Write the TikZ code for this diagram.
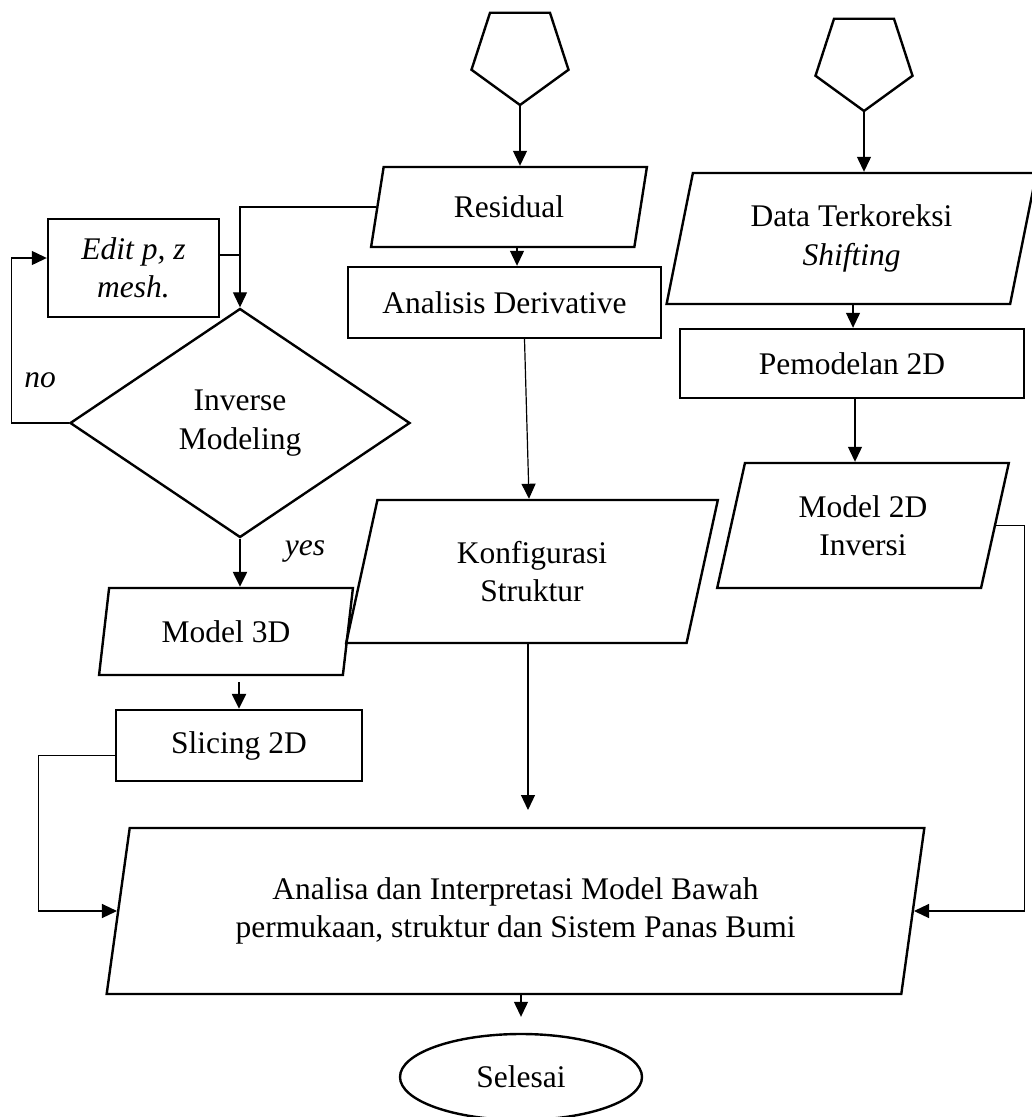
\documentclass[tikz,border=0pt]{standalone}
\usepackage{fontspec}
\setmainfont{Liberation Serif}
\usetikzlibrary{shapes.geometric,arrows.meta}
\begin{document}
\begin{tikzpicture}[x=1pt,y=-1pt,
  every node/.style={font=\fontsize{31.5}{38.5}\selectfont, align=center, inner sep=0pt},
  box/.style={draw, line width=2.4pt, rectangle},
  para/.style={draw, line width=2.4pt, trapezium, trapezium left angle=76, trapezium right angle=104, trapezium stretches=true},
  penta/.style={draw, line width=2.4pt, regular polygon, regular polygon sides=5, shape border rotate=180, minimum size=102pt},
  arr/.style={line width=1.2pt, -{Triangle[length=15pt,width=14pt]}},
  tarr/.style={line width=2.4pt, -{Triangle[length=15pt,width=14pt]}},
  conn/.style={line width=1.2pt},
  lbl/.style={font=\fontsize{31.5}{38.5}\selectfont\itshape}
]
\useasboundingbox (0,0) rectangle (1032,1117);

% nodes
\node[penta] (p1) at (520,54) {};
\node[penta] (p2) at (864,60) {};
\node[para, minimum width=276pt, minimum height=80pt] (res) at (509,207) {Residual};
\node[box, minimum width=313pt, minimum height=71pt] (ad) at (504.5,302.5) {Analisis Derivative};
\node[box, minimum width=171pt, minimum height=98pt] (edit) at (133.5,268) {\itshape Edit p, z\\\itshape mesh.};
\node[draw, line width=2.4pt, diamond, aspect=1.48, minimum width=340pt, minimum height=229pt] (dia) at (240,423) {Inverse\\Modeling};
\node[para, minimum width=254pt, minimum height=87pt] (m3d) at (226,631.5) {Model 3D};
\node[box, minimum width=246pt, minimum height=71pt] (sl) at (239,745.5) {Slicing 2D};
\node[para, minimum width=372pt, minimum height=143pt] (konf) at (532,571.5) {Konfigurasi\\Struktur};
\node[para, minimum width=371pt, minimum height=131pt] (dt) at (851.5,238.5) {Data Terkoreksi\\\itshape Shifting};
\node[box, minimum width=344pt, minimum height=69pt] (pm) at (852,363.5) {Pemodelan 2D};
\node[para, minimum width=292pt, minimum height=125pt] (m2d) at (863,525.5) {Model 2D\\Inversi};
\node[para, minimum width=821pt, minimum height=166pt] (main) at (515.5,911) {Analisa dan Interpretasi Model Bawah\\permukaan, struktur dan Sistem Panas Bumi};
\node[draw, line width=2.4pt, ellipse, minimum width=242pt, minimum height=86pt] (sel) at (521,1077) {Selesai};

\node[lbl] (no) at (40,380) {no};
\node[lbl] (yes) at (305,551) {yes};

\coordinate (kend) at (528,810);

% connectors
\draw[arr] (p1.corner 1) -- (p1.corner 1 |- res.north);
\draw[arr] ([xshift=8pt]res.south) -- ([xshift=8pt]res.south |- ad.north);
\draw[arr] (res.west) -| (dia.north);
\draw[conn] ([yshift=13pt]edit.east) -- ([yshift=13pt]edit.east -| dia.north);
\draw[arr] (dia.west) -- ++(-57,0) |- ([yshift=10pt]edit.west);
\draw[tarr] (dia.south) -- (dia.south |- m3d.north);
\draw[tarr] ([yshift=-6pt]m3d.south -| sl.north) -- (sl.north);
\draw[arr] ([yshift=-10pt]sl.west) -- ++(-76,0) |- (main.west);
\draw[arr] ([xshift=20pt]ad.south) -- ([xshift=-3pt]konf.north);
\draw[arr] (konf.south -| kend) -- (kend);
\draw[arr] (main.south -| sel.north) -- ([yshift=16pt]sel.north);
\draw[arr] (p2.corner 1) -- (p2.corner 1 |- dt.north);
\draw[arr] ([xshift=1.5pt]dt.south) -- ([xshift=1.5pt]dt.south |- pm.north);
\draw[arr] ([xshift=3pt]pm.south) -- ([xshift=3pt]pm.south |- m2d.north);
\draw[arr] (m2d.east) -- ++(28,0) |- (main.east);
\end{tikzpicture}
\end{document}
